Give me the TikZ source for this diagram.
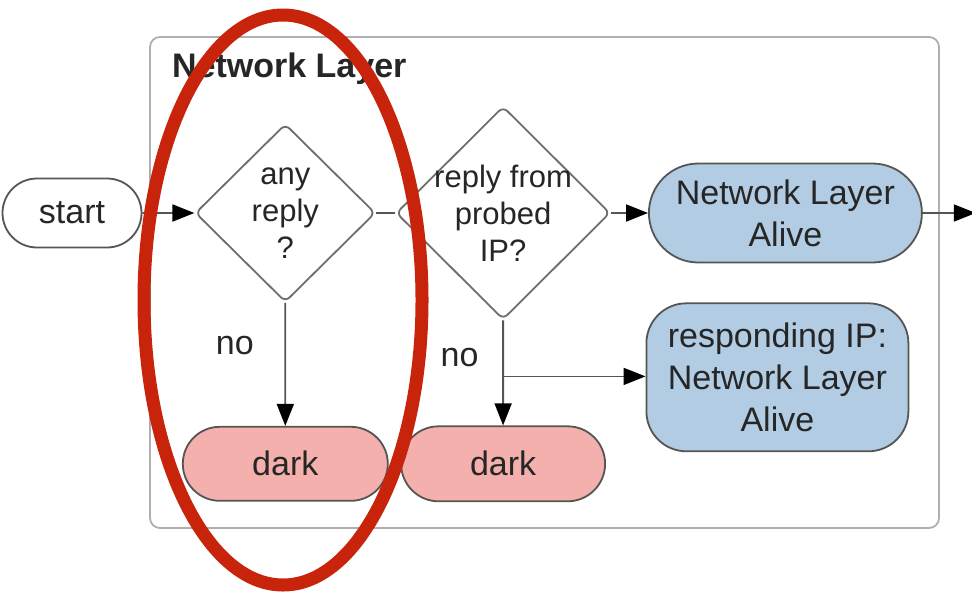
\documentclass[tikz,border=0pt]{standalone}
\usepackage{fontspec}
\setmainfont{Liberation Sans}
\usetikzlibrary{arrows.meta,
  positioning,
  shapes.geometric,
  shapes.misc
}
\definecolor{alivefill}{RGB}{177,204,227}
\definecolor{darkfill}{RGB}{243,176,172}
\definecolor{edgegray}{RGB}{85,85,85}
\definecolor{framegray}{RGB}{175,175,175}
\definecolor{markred}{RGB}{200,36,12}

\begin{document}
\begin{tikzpicture}[       ,
        every node/.style={text=black!85},
        pillnode/.style={rounded rectangle, draw=edgegray, line width=0.9pt, inner sep=0pt, align=center, font=\fontsize{17}{21}\selectfont},
        boxnode/.style={rectangle, rounded corners=20pt, draw=edgegray, line width=0.9pt, inner sep=0pt, align=center, font=\fontsize{17}{21}\selectfont},
        decisionnode/.style={diamond, draw=edgegray!85, fill=white, line width=0.9pt, rounded corners=3pt, inner sep=-4pt, align=center, font=\fontsize{15.5}{18.5}\selectfont},
        layerbox/.style={rectangle, rounded corners=5pt, draw=framegray, line width=0.9pt, minimum width=394.5pt, minimum height=245.5pt},
        nolabel/.style={font=\fontsize{17}{21}\selectfont},
        flow/.style={draw=edgegray, line width=0.9pt},
        >={Triangle[length=11pt,width=8.5pt,color=black]},
      ]
      \useasboundingbox (0,0) rectangle (486pt,-297pt);
      % Frame

      \node[layerbox] (layer) at (272.25pt,-141.25pt) {};
      \node[anchor=base west, font=\fontsize{17}{21}\selectfont\bfseries] (title) at ([xshift=8pt,yshift=-20.5pt]layer.north west) {Network Layer};

      % Nodes

      \node[pillnode, minimum width=69.5pt, minimum height=34.5pt] (start) at (36pt,-106.5pt) {start};

      \node[decisionnode, minimum width=90pt, minimum height=89pt] (anyreply) [right=26pt of start] {any\\reply\\?};
      \node[decisionnode, minimum width=107pt, minimum height=106.5pt] (probed) [right=9.5pt of anyreply] {reply from\\probed\\IP?};
      \node[pillnode, fill=alivefill, minimum width=136.5pt, minimum height=49.5pt] (alive) [right=18.5pt of probed] {Network Layer\\Alive};

      \node[pillnode, fill=darkfill, minimum width=102.5pt, minimum height=37pt] (dark1) [below=61.5pt of anyreply] {dark};
      \node[pillnode, fill=darkfill, minimum width=102pt, minimum height=37.5pt] (dark2) [below=52.5pt of probed] {dark};
      \node[boxnode, fill=alivefill, minimum width=131pt, minimum height=74pt] (responding) [below=19.5pt of alive, xshift=-4pt] {responding IP:\\Network Layer\\Alive};

      \coordinate (exit) at ([xshift=26.5pt]alive.east);
      \coordinate (split) at ([yshift=-28pt]probed.south);

      % Lines
      \draw[flow,->] (start) -- (anyreply);
      \draw[flow] (anyreply) -- (probed);
      \draw[flow,->] (probed) -- (alive);
      \draw[flow,->] (alive) -- (exit);
      \draw[flow,->] (anyreply) -- node[nolabel, pos=0.35, left=12pt] {no} (dark1);
      \draw[flow,->] (probed) -- node[nolabel, pos=0.35, left=8.5pt] {no} (dark2);
      \draw[flow,->] (split) -- (split -| responding.west);

      % Mark
      \node[ellipse, draw=markred, line width=6.5pt, inner sep=0pt, minimum width=139pt, minimum height=285pt] (mark) at (141.5pt,-150pt) {};
    \end{tikzpicture}
\end{document}
